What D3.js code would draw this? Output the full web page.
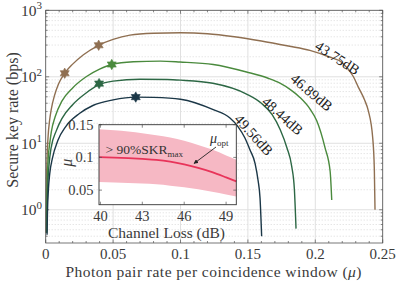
<!DOCTYPE html>
<html>
<head>
<meta charset="utf-8">
<script src="https://cdn.jsdelivr.net/npm/d3@7"></script>
<style>
  body { margin: 0; background: #fff; }
  text { font-family: "Liberation Serif", "DejaVu Serif", serif; fill: #3a3a3a; }
</style>
</head>
<body>
<div id="chart"></div>
<script>
// ---- data ----
const lossLabels = ['43.75dB', '46.89dB', '48.44dB', '49.56dB'];

const mu4375 = [0.00032, 0.0004, 0.0006, 0.001, 0.0017, 0.003, 0.0042, 0.0065, 0.0095, 0.0141, 0.02, 0.028, 0.0393, 0.05, 0.0625, 0.08, 0.1, 0.12, 0.14, 0.16, 0.18, 0.196, 0.21, 0.22, 0.2283, 0.2319, 0.2365, 0.2393, 0.2426, 0.2438, 0.2443];
const skr4375 = [0.45, 1.0, 2.6, 6, 12, 23, 33, 52, 78, 113, 155, 215, 298, 365, 423, 452, 460, 445, 400, 345, 290, 250, 200, 163, 100, 70, 45, 31, 12, 4, 1.0];

const mu4689 = [0.0006, 0.0008, 0.0012, 0.002, 0.003, 0.0042, 0.007, 0.012, 0.02, 0.03, 0.04, 0.049, 0.065, 0.085, 0.0996, 0.1243, 0.149, 0.165, 0.1738, 0.1815, 0.1886, 0.196, 0.201, 0.2072, 0.211, 0.2122];
const skr4689 = [0.45, 1.2, 3, 6.5, 10, 15, 25, 43, 68, 100, 130, 153, 168, 172, 167, 153, 118, 95, 80, 64, 49, 33, 22, 8.6, 3.8, 1.4];

const mu4844 = [0.0008, 0.001, 0.0015, 0.0025, 0.004, 0.0079, 0.012, 0.02, 0.03, 0.0396, 0.05, 0.07, 0.09, 0.1, 0.124, 0.149, 0.16, 0.168, 0.174, 0.179, 0.1825, 0.1845, 0.1857];
const skr4844 = [0.45, 0.9, 2.2, 4.8, 8.5, 15.5, 23.5, 38, 57, 76, 86, 92, 91, 89, 80, 55, 40, 27, 16, 8.5, 4.5, 2, 0.52];

const mu4956 = [0.001, 0.0013, 0.002, 0.003, 0.005, 0.009, 0.015, 0.025, 0.035, 0.05, 0.0668, 0.08, 0.1, 0.1243, 0.1367, 0.1425, 0.1478, 0.1515, 0.1553, 0.1575, 0.159, 0.1602];
const skr4956 = [0.42, 0.9, 2, 3.5, 6, 11, 18, 28, 37, 45, 49.5, 49, 46, 32, 24, 18, 12, 8, 5, 2.8, 1.5, 0.4];

// star markers (operating points)
const starMu   = [[0.0141, 0.0393], [0.049], [0.0396], [0.0668]];
const starSkr  = [[113, 298], [153], [79], [49.5]];

// curve label anchors (data coords)
const labelMu  = [0.2165, 0.1973, 0.1758, 0.1545];
const labelSkr = [193, 58.5, 26, 13.4];

const xTicks = [0, 0.05, 0.1, 0.15, 0.2, 0.25];
const xTickLabels = ['0', '0.05', '0.1', '0.15', '0.2', '0.25'];
const yExponents = [0, 1, 2, 3];

// inset: optimal mu vs channel loss
const insetLoss  = [39.9, 41, 42, 43, 44, 45, 46, 47, 48, 49, 49.73];
const insetUpper = [0.143, 0.1415, 0.1395, 0.137, 0.134, 0.1305, 0.1255, 0.119, 0.112, 0.103, 0.0966];
const insetLower = [0.0623, 0.0618, 0.061, 0.06, 0.0588, 0.0568, 0.0543, 0.0512, 0.0475, 0.0433, 0.0403];
const insetMuOpt = [0.1003, 0.0998, 0.099, 0.0978, 0.0963, 0.0935, 0.0893, 0.084, 0.0775, 0.0695, 0.0634];
const insetXTicks = [40, 43, 46, 49];
const insetYTicks = [0.05, 0.1, 0.15];
const insetYTickLabels = ['0.05', '0.1', '0.15'];

// ---- drawing ----
const width = 399;
const height = 281;
const colors = ['#8f6f51', '#4a8a3d', '#2c6744', '#1b3747'];
const series = [
  [mu4375, skr4375], [mu4689, skr4689], [mu4844, skr4844], [mu4956, skr4956]
];

const svg = d3.select('#chart')
              .append('svg')
              .attr('width', width)
              .attr('height', height);

const mLeft = 45.7, mRight = 382.7, mTop = 10.3, mBottom = 243;

const x = d3.scaleLinear().domain([0, 0.25]).range([mLeft, mRight]);
const y = d3.scaleLog().domain([Math.pow(10, -0.5), 1000]).range([mBottom, mTop]);

// grid
const minorY = [];
for (let e = -1; e < 3; e++) {
  for (let k = 2; k <= 9; k++) {
    const v = k * Math.pow(10, e);
    if (v > y.domain()[0] && v < 1000) minorY.push(v);
  }
}
svg.append('g').selectAll('line')
   .data(minorY).enter().append('line')
   .attr('x1', mLeft).attr('x2', mRight)
   .attr('y1', d => y(d)).attr('y2', d => y(d))
   .attr('stroke', '#cccccc').attr('stroke-width', 0.7)
   .attr('stroke-dasharray', '1,2');

svg.append('g').selectAll('line')
   .data(yExponents).enter().append('line')
   .attr('x1', mLeft).attr('x2', mRight)
   .attr('y1', d => y(Math.pow(10, d))).attr('y2', d => y(Math.pow(10, d)))
   .attr('stroke', '#e0e0e0').attr('stroke-width', 1);

svg.append('g').selectAll('line')
   .data(xTicks).enter().append('line')
   .attr('x1', d => x(d)).attr('x2', d => x(d))
   .attr('y1', mTop).attr('y2', mBottom)
   .attr('stroke', '#e0e0e0').attr('stroke-width', 1);

// ticks (inside, all four sides)
const tickCol = '#555';
const ticks = svg.append('g').attr('stroke', tickCol).attr('stroke-width', 0.7);
const minorX = d3.range(0, 26).map(i => i * 0.01);
minorX.forEach(d => {
  const len = xTicks.some(t => Math.abs(t - d) < 1e-9) ? 3.5 : 2;
  ticks.append('line').attr('x1', x(d)).attr('x2', x(d)).attr('y1', mBottom).attr('y2', mBottom - len);
  ticks.append('line').attr('x1', x(d)).attr('x2', x(d)).attr('y1', mTop).attr('y2', mTop + len);
});
minorY.forEach(d => {
  ticks.append('line').attr('x1', mLeft).attr('x2', mLeft + 2).attr('y1', y(d)).attr('y2', y(d));
  ticks.append('line').attr('x1', mRight).attr('x2', mRight - 2).attr('y1', y(d)).attr('y2', y(d));
});
yExponents.forEach(e => {
  const v = Math.pow(10, e);
  ticks.append('line').attr('x1', mLeft).attr('x2', mLeft + 3.5).attr('y1', y(v)).attr('y2', y(v));
  ticks.append('line').attr('x1', mRight).attr('x2', mRight - 3.5).attr('y1', y(v)).attr('y2', y(v));
});

// curves
const line = d3.line()
               .x(d => x(d[0]))
               .y(d => y(d[1]))
               .curve(d3.curveMonotoneX);

series.forEach((s, i) => {
  const pts = s[0].map((m, j) => [m, s[1][j]]);
  svg.append('path')
     .datum(pts)
     .attr('d', line)
     .attr('fill', 'none')
     .attr('stroke', colors[i])
     .attr('stroke-width', 1.4);
});

// hexagram markers
const hexagram = (cx, cy, R) => {
  const r = R / Math.sqrt(3);
  const p = d3.path();
  for (let k = 0; k < 12; k++) {
    const a = -Math.PI / 2 + k * Math.PI / 6;
    const rr = k % 2 === 0 ? R : r;
    const px = cx + rr * Math.cos(a), py = cy + rr * Math.sin(a);
    if (k === 0) p.moveTo(px, py); else p.lineTo(px, py);
  }
  p.closePath();
  return p.toString();
};

starMu.forEach((ms, i) => {
  ms.forEach((m, j) => {
    svg.append('path')
       .attr('d', hexagram(x(m), y(starSkr[i][j]), 5.2))
       .attr('fill', colors[i])
       .attr('stroke', colors[i])
       .attr('stroke-width', 0.6);
  });
});

// curve labels
const labelAngle = [33, 40, 42, 48];
lossLabels.forEach((t, i) => {
  svg.append('text')
     .attr('transform', 'translate(' + x(labelMu[i]) + ',' + y(labelSkr[i]) + ') rotate(' + labelAngle[i] + ')')
     .attr('text-anchor', 'middle')
     .attr('dy', '0.35em')
     .style('font-size', '14.5px')
     .style('fill', '#222')
     .text(t);
});

// frame
svg.append('rect')
   .attr('x', mLeft).attr('y', mTop)
   .attr('width', mRight - mLeft).attr('height', mBottom - mTop)
   .attr('fill', 'none').attr('stroke', tickCol).attr('stroke-width', 0.8);

// tick labels
svg.append('g').selectAll('text')
   .data(xTicks).enter().append('text')
   .attr('x', d => x(d)).attr('y', 259)
   .attr('text-anchor', 'middle')
   .style('font-size', '15px')
   .text((d, i) => xTickLabels[i]);

yExponents.forEach(e => {
  const t = svg.append('text')
               .attr('x', 42).attr('y', y(Math.pow(10, e)) + 5.5)
               .attr('text-anchor', 'end')
               .style('font-size', '15.5px');
  t.append('tspan').text('10');
  t.append('tspan').attr('dy', -6.5).style('font-size', '11px').text(e);
});

svg.append('text')
   .attr('x', 213.5).attr('y', 277)
   .attr('text-anchor', 'middle')
   .attr('textLength', 296)
   .style('font-size', '15.5px')
   .html('Photon pair rate per coincidence window (<tspan font-style="italic">μ</tspan>)');

svg.append('text')
   .attr('transform', 'translate(18,' + 120 + ') rotate(-90)')
   .attr('text-anchor', 'middle')
   .style('font-size', '16px')
   .text('Secure key rate (bps)');

// ---- inset ----
const iL = 99, iR = 236.3, iT = 124.7, iB = 204.7;
const ix = d3.scaleLinear().domain([39.9, 49.73]).range([iL, iR]);
const iy = d3.scaleLinear().domain([0.0277, 0.15]).range([iB, iT]);

const inset = svg.append('g');
inset.append('rect')
     .attr('x', iL).attr('y', iT).attr('width', iR - iL).attr('height', iB - iT)
     .attr('fill', '#fff');

const band = d3.area()
               .x((d, i) => ix(insetLoss[i]))
               .y0((d, i) => iy(insetLower[i]))
               .y1((d, i) => iy(insetUpper[i]))
               .curve(d3.curveMonotoneX);
inset.append('path')
     .datum(insetLoss)
     .attr('d', band)
     .attr('fill', '#f6b8c4');

const optLine = d3.line()
                  .x((d, i) => ix(insetLoss[i]))
                  .y((d, i) => iy(insetMuOpt[i]))
                  .curve(d3.curveMonotoneX);
inset.append('path')
     .datum(insetLoss)
     .attr('d', optLine)
     .attr('fill', 'none')
     .attr('stroke', '#e8345a')
     .attr('stroke-width', 1.8);

const iTicks = inset.append('g').attr('stroke', tickCol).attr('stroke-width', 0.7);
insetXTicks.forEach(d => {
  iTicks.append('line').attr('x1', ix(d)).attr('x2', ix(d)).attr('y1', iB).attr('y2', iB - 3);
  iTicks.append('line').attr('x1', ix(d)).attr('x2', ix(d)).attr('y1', iT).attr('y2', iT + 3);
});
insetYTicks.forEach(d => {
  iTicks.append('line').attr('x1', iL).attr('x2', iL + 3).attr('y1', iy(d)).attr('y2', iy(d));
  iTicks.append('line').attr('x1', iR).attr('x2', iR - 3).attr('y1', iy(d)).attr('y2', iy(d));
});

inset.append('rect')
     .attr('x', iL).attr('y', iT).attr('width', iR - iL).attr('height', iB - iT)
     .attr('fill', 'none').attr('stroke', '#333').attr('stroke-width', 0.9);

inset.selectAll('.ixl')
     .data(insetXTicks).enter().append('text')
     .attr('x', d => ix(d)).attr('y', 221)
     .attr('text-anchor', 'middle')
     .style('font-size', '14.5px')
     .text(d => d);

inset.selectAll('.iyl')
     .data(insetYTicks).enter().append('text')
     .attr('x', 93.5).attr('y', d => iy(d) + 5)
     .attr('text-anchor', 'end')
     .style('font-size', '14.5px')
     .text((d, i) => insetYTickLabels[i]);

inset.append('text')
     .attr('x', 166.5).attr('y', 238)
     .attr('text-anchor', 'middle')
     .style('font-size', '15.5px')
     .text('Channel Loss (dB)');

inset.append('text')
     .attr('transform', 'translate(72,' + iy(0.092) + ') rotate(-90)')
     .attr('text-anchor', 'middle')
     .style('font-size', '16px')
     .style('font-style', 'italic')
     .text('μ');

const ann = inset.append('text')
                 .attr('x', 105.5).attr('y', 154)
                 .style('font-size', '13.5px')
                 .style('fill', '#333');
ann.append('tspan').text('> 90%SKR');
ann.append('tspan').attr('dy', 2.5).style('font-size', '9px').text('max');

const annMu = inset.append('text')
                   .attr('x', 210).attr('y', 143)
                   .style('font-size', '14px')
                   .style('fill', '#333');
annMu.append('tspan').style('font-style', 'italic').text('μ');
annMu.append('tspan').attr('dy', 2.5).style('font-size', '9px').text('opt');

// arrow
svg.append('defs').append('marker')
   .attr('id', 'arrowhead')
   .attr('viewBox', '0 0 10 10')
   .attr('refX', 9).attr('refY', 5)
   .attr('markerWidth', 5).attr('markerHeight', 5)
   .attr('orient', 'auto')
   .append('path').attr('d', 'M0,0 L10,5 L0,10 z').attr('fill', '#222');

inset.append('line')
     .attr('x1', 216).attr('y1', 147)
     .attr('x2', 194).attr('y2', 163.5)
     .attr('stroke', '#222').attr('stroke-width', 0.9)
     .attr('marker-end', 'url(#arrowhead)');
</script>
</body>
</html>
